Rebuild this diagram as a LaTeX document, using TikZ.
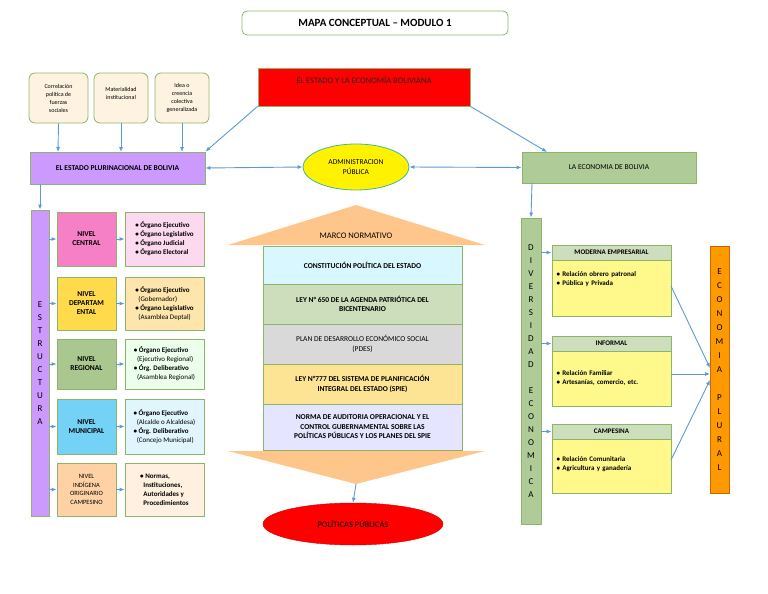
\documentclass[tikz,border=0pt]{standalone}
\usepackage{fontspec}
\setmainfont{Carlito}
\usetikzlibrary{shapes.geometric,arrows.meta}
\definecolor{gb}{HTML}{8DB56A}
\definecolor{ar}{HTML}{5B9BD5}
\definecolor{pur}{HTML}{CC99FF}
\begin{document}
\begin{tikzpicture}[x=1pt,y=-1pt,
  bx/.style={draw=gb,line width=0.8pt,inner sep=1pt,align=center,font=\fontsize{7.5}{9}\selectfont\bfseries},
  sbx/.style={bx,rounded corners=6pt,fill=yellow!15!orange!10,font=\fontsize{6}{8}\selectfont},
  dt/.style={bx,align=left,font=\fontsize{7}{9}\selectfont\bfseries},
  arr/.style={-{Latex[length=5pt,width=4pt]},draw=ar,line width=0.9pt},
  darr/.style={{Latex[length=5pt,width=4pt]}-{Latex[length=5pt,width=4pt]},draw=ar,line width=0.9pt}]
\useasboundingbox (0,0) rectangle (768,594);
\newcommand{\rb}[5]{\node[#5,minimum width=#3-#1,minimum height=#4-#2] at ({(#1+#3)/2},{(#2+#4)/2})}
% title
\rb{242}{11}{508}{35}{bx,rounded corners=5pt,font=\fontsize{11}{12}\selectfont\bfseries} (title) {MAPA CONCEPTUAL – MODULO 1};
\rb{258}{68}{470}{106}{bx,fill=red,text=black!85,text depth=14pt,font=\fontsize{8.5}{10}\selectfont} (estado) {EL ESTADO Y LA ECONOMÍA BOLIVIANA};
\rb{29}{73}{88}{123}{sbx} (s1) {Correlación\\política de\\fuerzas\\sociales};
\rb{94}{73}{148}{123}{sbx,text depth=10pt} (s2) {Materialidad\\institucional};
\rb{155}{73}{209}{123}{sbx} (s3) {Idea o\\creencia\\colectiva\\generalizada};
\rb{30}{152}{205}{184}{bx,fill=pur} (epb) {EL ESTADO PLURINACIONAL DE BOLIVIA};
\node[ellipse,draw=ar!70!green,fill=yellow,line width=0.8pt,minimum width=106,minimum height=46,inner sep=0pt,align=center,font=\fontsize{7.5}{9.5}\selectfont] (adm) at (356,167) {ADMINISTRACION\\PÚBLICA};
\rb{522}{152}{696}{183}{bx,fill=gb!70!white,font=\fontsize{7.5}{8}\selectfont} (eco) {LA ECONOMIA DE BOLIVIA};
\foreach \s/\x in {s1/58,s2/121,s3/182}{\draw[arr] (\s.south) -- (\x,152);}
\draw[arr] (estado.south west) -- (epb.north east);
\draw[arr] (estado.south east) -- (547,152);
\draw[darr] (epb.east) -- (adm.west);
\draw[darr] (adm.east) -- (eco.west);
% estructura
\rb{31}{210}{49}{516}{bx,fill=pur,font=\fontsize{9}{13}\selectfont\mdseries} (est) {E\\S\\T\\R\\U\\C\\T\\U\\R\\A};
\draw[arr] (40,184) -- (est.north);
\rb{57}{212}{116}{266}{bx,fill=magenta!50!white} (l1) {NIVEL\\CENTRAL};
\rb{57}{277}{116}{330}{bx,fill=orange!40!yellow!70!white} (l2) {NIVEL\\DEPARTAM\\ENTAL};
\rb{57}{339}{116}{389}{bx,fill=gb!75!white} (l3) {NIVEL\\REGIONAL};
\rb{57}{399}{116}{454}{bx,fill=cyan!55!white} (l4) {NIVEL\\MUNICIPAL};
\rb{57}{463}{116}{516}{bx,fill=orange!35!white,font=\fontsize{6.5}{8.5}\selectfont} (l5) {NIVEL\\INDÍGENA\\ORIGINARIO\\CAMPESINO};
\rb{125}{212}{204}{266}{dt,fill=magenta!15!white} (d1) {• Órgano Ejecutivo\\• Órgano Legislativo\\• Órgano Judicial\\• Órgano Electoral};
\rb{125}{277}{204}{330}{dt,fill=yellow!40!orange!30!white} (d2) {• Órgano Ejecutivo\\\ \ \mdseries(Gobernador)\\• Órgano Legislativo\\\ \ \mdseries(Asamblea Deptal)};
\rb{125}{339}{204}{389}{dt,fill=green!8!white} (d3) {• Órgano Ejecutivo\\\ \ \mdseries(Ejecutivo Regional)\\• Órg. Deliberativo\\\ \ \mdseries(Asamblea Regional)};
\rb{125}{399}{204}{454}{dt,fill=cyan!12!white} (d4) {• Órgano Ejecutivo\\\ \ \mdseries(Alcalde o Alcaldesa)\\• Órg. Deliberativo\\\ \ \mdseries(Concejo Municipal)};
\rb{125}{463}{204}{516}{dt,fill=orange!12!white} (d5) {• Normas,\\\ \ Instituciones,\\\ \ Autoridades y\\\ \ Procedimientos};
\foreach \i in {1,...,5}{\draw[arr] (est.east |- l\i.west) -- (l\i.west); \draw[arr] (l\i.east) -- (d\i.west);}
% centre
\fill[orange!45!white] (356,205) -- (485,245) -- (228,245) -- cycle;
\node[font=\fontsize{8.5}{9}\selectfont] (mn) at (356,236) {MARCO NORMATIVO};
\rb{263}{246}{462}{284}{bx,fill=blue!20!cyan!15!white,font=\fontsize{7.5}{9.5}\selectfont\bfseries} (c1) {CONSTITUCIÓN POLÍTICA DEL ESTADO};
\rb{263}{284}{462}{324}{bx,fill=gb!45!white,font=\fontsize{7.5}{9.5}\selectfont\bfseries} (c2) {LEY N° 650 DE LA AGENDA PATRIÓTICA DEL\\BICENTENARIO};
\rb{263}{324}{462}{364}{bx,fill=black!15,font=\fontsize{7.5}{9.5}\selectfont} (c3) {PLAN DE DESARROLLO ECONÓMICO SOCIAL\\(PDES)};
\rb{263}{364}{462}{404}{bx,fill=yellow!55!orange!40!white,font=\fontsize{7.5}{9.5}\selectfont\bfseries} (c4) {LEY N°777 DEL SISTEMA DE PLANIFICACIÓN\\INTEGRAL DEL ESTADO (SPIE)};
\rb{263}{404}{462}{450}{bx,fill=blue!10!white,font=\fontsize{7.5}{9.5}\selectfont\bfseries} (c5) {NORMA DE AUDITORIA OPERACIONAL Y EL\\CONTROL GUBERNAMENTAL SOBRE LAS\\POLÍTICAS PÚBLICAS Y LOS PLANES DEL SPIE};
\fill[orange!45!white] (228,451) -- (485,451) -- (356,484) coordinate (tip) -- cycle;
\node[ellipse,fill=red,draw=red!80!black,minimum width=180,minimum height=42,inner sep=0pt,font=\fontsize{8.5}{9}\selectfont] (pol) at (353,524) {POLÍTICAS PÚBLICAS};
\draw[arr] (tip) -- (pol.north);
% right
\rb{521}{218}{541}{524}{bx,fill=gb!70!white,font=\fontsize{9}{13}\selectfont\mdseries} (div) {D\\I\\V\\E\\R\\S\\I\\D\\A\\D\\[13pt]E\\C\\O\\N\\O\\M\\I\\C\\A};
\draw[arr] (532,183) -- (div.north);
\rb{710}{246}{729}{493}{bx,draw=orange!80!black,fill=orange!80!yellow,font=\fontsize{9}{14}\selectfont\mdseries} (ep) {E\\C\\O\\N\\O\\M\\I\\A\\[14pt]P\\L\\U\\R\\A\\L};
\rb{552}{245}{671}{260}{bx,fill=gb!45!white,font=\fontsize{7}{8}\selectfont\bfseries} (h1) {MODERNA EMPRESARIAL};
\rb{552}{260}{671}{316}{dt,fill=yellow!45!white,text depth=28pt,text width=110pt} (b1) {• Relación obrero patronal\\• Pública y Privada};
\rb{552}{336}{671}{351}{bx,fill=gb!45!white,font=\fontsize{7}{8}\selectfont\bfseries} (h2) {INFORMAL};
\rb{552}{351}{671}{406}{dt,fill=yellow!45!white,text depth=10pt,text width=110pt} (b2) {• Relación Familiar\\• Artesanías, comercio, etc.};
\rb{552}{424}{671}{439}{bx,fill=gb!45!white,font=\fontsize{7}{8}\selectfont\bfseries} (h3) {CAMPESINA};
\rb{552}{439}{671}{493}{dt,fill=yellow!45!white,text depth=14pt,text width=110pt} (b3) {• Relación Comunitaria\\• Agricultura y ganadería};
\foreach \i in {1,2,3}{\draw[arr] (div.east |- h\i.west) -- (h\i.west);}
\draw[arr] (671,286) -- (710,368);
\draw[arr] (671,374) -- (710,374);
\draw[arr] (671,460) -- (710,380);
\end{tikzpicture}
\end{document}
